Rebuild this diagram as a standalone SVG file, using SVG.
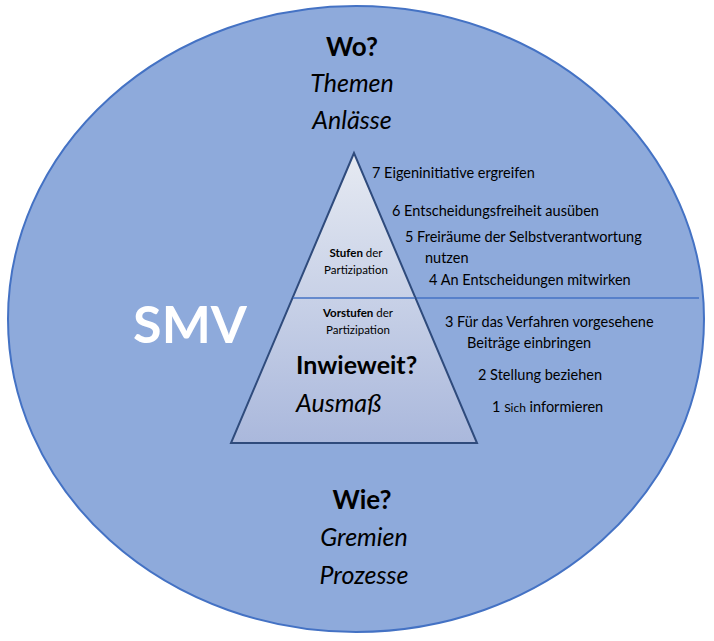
<svg xmlns="http://www.w3.org/2000/svg" width="714" height="641" viewBox="0 0 714 641">
<defs>
<linearGradient id="tg" x1="0" y1="0" x2="0" y2="1">
<stop offset="0" stop-color="#e6eaf2"/>
<stop offset="1" stop-color="#aab8dc"/>
</linearGradient>
<style>
text{font-family:Lato,"Open Sans",sans-serif;fill:#000}
.h{font-size:26px;font-weight:bold;text-anchor:middle}
.i{font-size:25px;font-style:italic;text-anchor:middle}
.s{font-size:14.5px}
.m{font-size:11.5px;text-anchor:middle}
</style>
</defs>
<g id="circle"><ellipse cx="356" cy="319" rx="348" ry="313" fill="#8eaadb" stroke="#4472c4" stroke-width="2"/></g>
<g id="connectors"><line x1="293" y1="298" x2="699" y2="298" stroke="#4472c4" stroke-width="1.5"/></g>
<g id="pyramid">
<polygon points="354,153 231,443 477,443" fill="url(#tg)" stroke="#2f4b7c" stroke-width="2"/>
<line x1="293" y1="298" x2="415" y2="298" stroke="#4472c4" stroke-width="1.5"/>
<text class="m" x="356" y="257"><tspan font-weight="bold">Stufen</tspan> der</text>
<text class="m" x="356" y="274">Partizipation</text>
<text class="m" x="358" y="317"><tspan font-weight="bold">Vorstufen</tspan> der</text>
<text class="m" x="358" y="334">Partizipation</text>
<text x="296" y="374" style="font-size:25px;font-weight:bold">Inwieweit?</text>
<text x="296" y="412" style="font-size:25px;font-style:italic">Ausmaß</text>
</g>
<g id="top"><text class="h" x="352" y="56">Wo?</text><text class="i" x="352" y="92">Themen</text><text class="i" x="352" y="129">Anlässe</text></g>
<g id="bottom"><text class="h" x="362" y="509">Wie?</text><text class="i" x="364" y="546">Gremien</text><text class="i" x="364" y="584">Prozesse</text></g>
<g id="smv"><text x="190" y="343" style="font-size:52px;font-weight:bold;fill:#fff;text-anchor:middle">SMV</text></g>
<g id="levels" class="s">
<text class="s" x="372" y="178">7  Eigeninitiative ergreifen</text>
<text class="s" x="392" y="216">6  Entscheidungsfreiheit ausüben</text>
<text class="s" x="405" y="242">5  Freiräume der Selbstverantwortung</text>
<text class="s" x="425" y="263">nutzen</text>
<text class="s" x="429" y="285">4  An Entscheidungen mitwirken</text>
<text class="s" x="445" y="327">3  Für das Verfahren vorgesehene</text>
<text class="s" x="467" y="348">Beiträge einbringen</text>
<text class="s" x="478" y="380">2  Stellung beziehen</text>
<text class="s" x="492" y="412">1 <tspan font-size="12px">Sich</tspan> informieren</text>
</g>
</svg>
